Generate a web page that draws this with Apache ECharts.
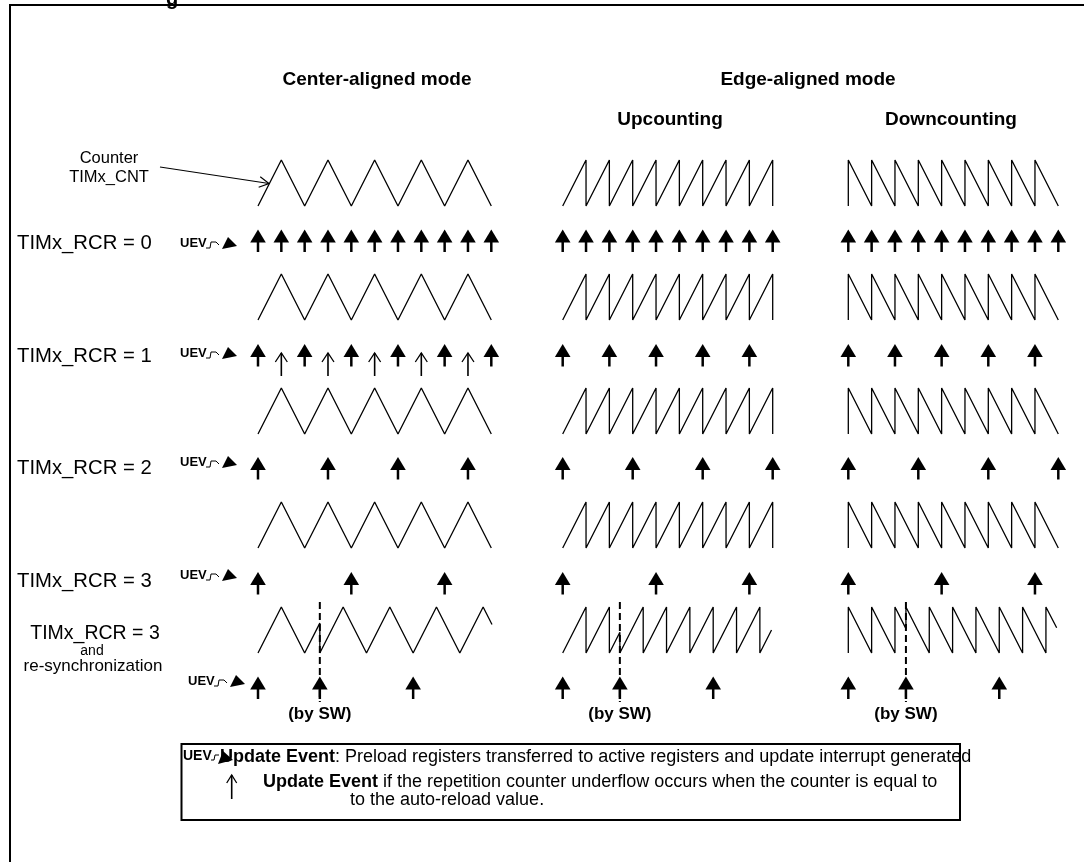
<!DOCTYPE html>
<html><head><meta charset="utf-8">
<script src="https://cdn.jsdelivr.net/npm/echarts@6/dist/echarts.min.js"></script>
<style>html,body{margin:0;padding:0;background:#fff}#c{width:1084px;height:862px}</style>
</head><body><div id="c"></div><script>
// ================= DATA =================
const columnTitles = ['Center-aligned mode', 'Edge-aligned mode'];
const edgeSubTitles = ['Upcounting', 'Downcounting'];
const rowLabels = ['TIMx_RCR = 0', 'TIMx_RCR = 1', 'TIMx_RCR = 2', 'TIMx_RCR = 3'];
const resyncLabel = ['TIMx_RCR = 3', 'and', 're-synchronization'];
const counterLabel = ['Counter', 'TIMx_CNT'];
const swLabel = '(by SW)';
const uevLabel = 'UEV';
const legendLine1 = '{b|Update Event}: Preload registers transferred to active registers and update interrupt generated';
const legendLine2 = '{b|Update Event} if the repetition counter underflow occurs when the counter is equal to';
const legendLine3 = 'to the auto-reload value.';

// Counter waveforms as [time, level]; level 0 = 0, level 1 = auto-reload value.
// Center-aligned time unit = half period, edge-aligned time unit = counter period.
const centerWave = [[0,0],[1,1],[2,0],[3,1],[4,0],[5,1],[6,0],[7,1],[8,0],[9,1],[10,0]];
const upWave = [[0,0],[1,1],[1,0],[2,1],[2,0],[3,1],[3,0],[4,1],[4,0],[5,1],[5,0],[6,1],[6,0],[7,1],[7,0],[8,1],[8,0],[9,1],[9,0]];
const downWave = [[0,0],[0,1],[1,0],[1,1],[2,0],[2,1],[3,0],[3,1],[4,0],[4,1],[5,0],[5,1],[6,0],[6,1],[7,0],[7,1],[8,0],[8,1],[9,0]];
const centerResyncWave = [[0,0],[1,1],[2,0],[2.65,0.65],[2.65,0],[3.65,1],[4.65,0],[5.65,1],[6.65,0],[7.65,1],[8.65,0],[9.65,1],[10.03,0.62]];
const upResyncWave = [[0,0],[1,1],[1,0],[2,1],[2,0],[2.45,0.45],[2.45,0],[3.45,1],[3.45,0],[4.45,1],[4.45,0],[5.45,1],[5.45,0],[6.45,1],[6.45,0],[7.45,1],[7.45,0],[8.45,1],[8.45,0],[8.95,0.5]];
const downResyncWave = [[0,0],[0,1],[1,0],[1,1],[2,0],[2,1],[2.47,0.53],[2.47,1],[3.47,0],[3.47,1],[4.47,0],[4.47,1],[5.47,0],[5.47,1],[6.47,0],[6.47,1],[7.47,0],[7.47,1],[8.47,0],[8.47,1],[8.93,0.55]];

// Update events (times) per TIMx_RCR row
const centerUEV = [[0,1,2,3,4,5,6,7,8,9,10],[0,2,4,6,8,10],[0,3,6,9],[0,4,8]];
const centerUnderflowUEV = [[],[1,3,5,7,9],[],[]];
const upUEV = [[0,1,2,3,4,5,6,7,8,9],[0,2,4,6,8],[0,3,6,9],[0,4,8]];
const downUEV = [[0,1,2,3,4,5,6,7,8,9],[0,2,4,6,8],[0,3,6,9],[0,4,8]];
const centerResyncUEV = [0, 2.65, 6.65];
const upResyncUEV = [0, 2.45, 6.45];
const downResyncUEV = [0, 2.47, 6.47];
const resyncTimes = [2.65, 2.45, 2.47];

// ================= LAYOUT =================
const W = 1084, H = 862;
const FONT = '"Liberation Sans", Arial, Helvetica, sans-serif';
const cols = [
  {left: 258, width: 233.3, max: 10},
  {left: 562.7, width: 210, max: 9},
  {left: 848.3, width: 210, max: 9}
];
const waveBottom = [206, 320, 434, 548, 653];
const AMP = 46;
const arrowTop = [229.5, 344, 457, 572, 676.5];
const labelY = [243, 356, 468, 581];
const uevY = [243, 353, 462, 575];

const chart = echarts.init(document.getElementById('c'), null, {renderer: 'canvas', width: W, height: H});

const grid = cols.map(c => ({left: c.left, width: c.width, top: 0, height: H, containLabel: false}));
const xAxis = cols.map((c, i) => ({type: 'value', gridIndex: i, min: 0, max: c.max, show: false}));
const yAxis = cols.map((c, i) => ({type: 'value', gridIndex: i, min: 0, max: H, inverse: true, show: false}));

const series = [];
function waveSeries(wave, row, col) {
  series.push({
    type: 'line', xAxisIndex: col, yAxisIndex: col, clip: false, silent: true, animation: false,
    symbol: 'none', lineStyle: {color: '#000', width: 1.3},
    data: wave.map(p => [p[0], waveBottom[row] - p[1] * AMP])
  });
}
const rowWaves = [centerWave, upWave, downWave];
const resyncWaves = [centerResyncWave, upResyncWave, downResyncWave];
for (let c = 0; c < 3; c++) {
  for (let r = 0; r < 4; r++) waveSeries(rowWaves[c], r, c);
  waveSeries(resyncWaves[c], 4, c);
}

function arrowItem(params, api) {
  const p = api.coord([api.value(0), api.value(1)]);
  const x = p[0], y = p[1];
  if (api.value(2) === 1) {
    return {type: 'group', children: [
      {type: 'polyline', shape: {points: [[x - 6, y + 9], [x, y], [x + 6, y + 9]]}, style: {stroke: '#000', lineWidth: 1.3, fill: 'none'}},
      {type: 'line', shape: {x1: x, y1: y, x2: x, y2: y + 23}, style: {stroke: '#000', lineWidth: 1.6, fill: 'none'}}
    ]};
  }
  return {type: 'group', children: [
    {type: 'polygon', shape: {points: [[x - 7.8, y + 13], [x, y], [x + 7.8, y + 13]]}, style: {fill: '#000'}},
    {type: 'rect', shape: {x: x - 1.25, y: y + 12, width: 2.5, height: 10.5}, style: {fill: '#000'}}
  ]};
}
const uevByCol = [centerUEV, upUEV, downUEV];
const resyncUEVByCol = [centerResyncUEV, upResyncUEV, downResyncUEV];
for (let c = 0; c < 3; c++) {
  const data = [];
  uevByCol[c].forEach((ts, r) => ts.forEach(t => data.push([t, arrowTop[r], 0])));
  if (c === 0) centerUnderflowUEV.forEach((ts, r) => ts.forEach(t => data.push([t, arrowTop[r] + 9, 1])));
  resyncUEVByCol[c].forEach(t => data.push([t, arrowTop[4], 0]));
  series.push({type: 'custom', xAxisIndex: c, yAxisIndex: c, clip: false, silent: true, animation: false, renderItem: arrowItem, data});
  // software re-synchronization marker
  series.push({
    type: 'line', xAxisIndex: c, yAxisIndex: c, clip: false, silent: true, animation: false, symbol: 'none',
    lineStyle: {color: '#000', width: 2, type: [7, 4]},
    data: [[resyncTimes[c], 602], [resyncTimes[c], 702]]
  });
  series.push({
    type: 'custom', xAxisIndex: c, yAxisIndex: c, clip: false, silent: true, animation: false,
    data: [[resyncTimes[c], 714]],
    renderItem: (params, api) => {
      const p = api.coord([api.value(0), api.value(1)]);
      return {type: 'text', x: p[0], y: p[1], style: {text: swLabel, font: `bold 17px ${FONT}`, fill: '#000', align: 'center', verticalAlign: 'middle', textAlign: 'center', textVerticalAlign: 'middle'}};
    }
  });
}

// ================= DECORATION =================
function txt(text, x, y, size, opts) {
  opts = opts || {};
  return {type: 'text', x, y, silent: true, style: Object.assign({
    text, font: `${opts.bold ? 'bold ' : ''}${size}px ${FONT}`, fill: '#000',
    align: opts.align || 'left', verticalAlign: opts.v || 'middle',
    textAlign: opts.align || 'left', textVerticalAlign: opts.v || 'middle'
  }, opts.extra || {})};
}
function uevIcon(x, y, fs) {
  return [
    txt(uevLabel, x, y, fs, {bold: true}),
    {type: 'polyline', silent: true, shape: {points: [[x + 26, y + 5], [x + 30, y + 5], [x + 31, y - 1], [x + 36, y - 1], [x + 39, y + 2]]}, style: {stroke: '#000', lineWidth: 1, fill: 'none'}},
    {type: 'polygon', silent: true, shape: {points: [[x + 42, y + 6], [x + 48, y - 6], [x + 57, y + 3]]}, style: {fill: '#000'}}
  ];
}
const g = [];
// frame
g.push({type: 'line', silent: true, shape: {x1: 9, y1: 5, x2: W, y2: 5}, style: {stroke: '#000', lineWidth: 2}});
g.push({type: 'line', silent: true, shape: {x1: 10, y1: 5, x2: 10, y2: H}, style: {stroke: '#000', lineWidth: 2}});
g.push(txt('g', 166, 9, 20, {bold: true, v: 'bottom'}));
// titles
g.push(txt(columnTitles[0], 377, 80, 19, {bold: true, align: 'center'}));
g.push(txt(columnTitles[1], 808, 80, 19, {bold: true, align: 'center'}));
g.push(txt(edgeSubTitles[0], 670, 120, 19, {bold: true, align: 'center'}));
g.push(txt(edgeSubTitles[1], 951, 120, 19, {bold: true, align: 'center'}));
// counter label and pointer
g.push(txt(counterLabel[0], 109, 158, 16.5, {align: 'center'}));
g.push(txt(counterLabel[1], 109, 177, 16.5, {align: 'center'}));
(function () {
  const x0 = 160, y0 = 167, x1 = 269, y1 = 183.5;
  const a = Math.atan2(y1 - y0, x1 - x0), L = 11, s = 0.5;
  g.push({type: 'line', silent: true, shape: {x1: x0, y1: y0, x2: x1, y2: y1}, style: {stroke: '#000', lineWidth: 1.2}});
  g.push({type: 'polyline', silent: true, shape: {points: [
    [x1 - L * Math.cos(a - s), y1 - L * Math.sin(a - s)], [x1, y1], [x1 - L * Math.cos(a + s), y1 - L * Math.sin(a + s)]
  ]}, style: {stroke: '#000', lineWidth: 1.2, fill: 'none'}});
})();
// row labels + UEV icons
rowLabels.forEach((l, i) => {
  g.push(txt(l, 17, labelY[i], 20.3));
  uevIcon(180, uevY[i], 13).forEach(e => g.push(e));
});
g.push(txt(resyncLabel[0], 95, 634, 19.5, {align: 'center'}));
g.push(txt(resyncLabel[1], 92, 651, 14, {align: 'center'}));
g.push(txt(resyncLabel[2], 93, 666, 17, {align: 'center'}));
uevIcon(188, 681, 13).forEach(e => g.push(e));
// legend box
g.push({type: 'rect', silent: true, shape: {x: 181.5, y: 744, width: 778.5, height: 76}, style: {stroke: '#000', lineWidth: 2, fill: 'none'}});
g.push(txt(legendLine1, 220, 757, 18, {extra: {rich: {b: {font: `bold 18px ${FONT}`, fill: '#000'}}}}));
g.push(txt(uevLabel, 183, 756, 14, {bold: true}));
g.push({type: 'polyline', silent: true, shape: {points: [[211, 760], [214, 760], [215, 755], [219, 755]]}, style: {stroke: '#000', lineWidth: 1, fill: 'none'}});
g.push({type: 'polygon', silent: true, shape: {points: [[218, 764], [223, 751], [233, 760]]}, style: {fill: '#000'}});
g.push({type: 'polyline', silent: true, shape: {points: [[226.7, 783], [231.7, 775], [236.7, 783]]}, style: {stroke: '#000', lineWidth: 1.3, fill: 'none'}});
g.push({type: 'line', silent: true, shape: {x1: 231.7, y1: 775, x2: 231.7, y2: 799}, style: {stroke: '#000', lineWidth: 1.6}});
g.push(txt(legendLine2, 263, 782, 18, {extra: {rich: {b: {font: `bold 18px ${FONT}`, fill: '#000'}}}}));
g.push(txt(legendLine3, 350, 800, 18));

chart.setOption({
  animation: false,
  backgroundColor: '#fff',
  grid, xAxis, yAxis, series,
  graphic: {elements: g}
});
</script></body></html>
